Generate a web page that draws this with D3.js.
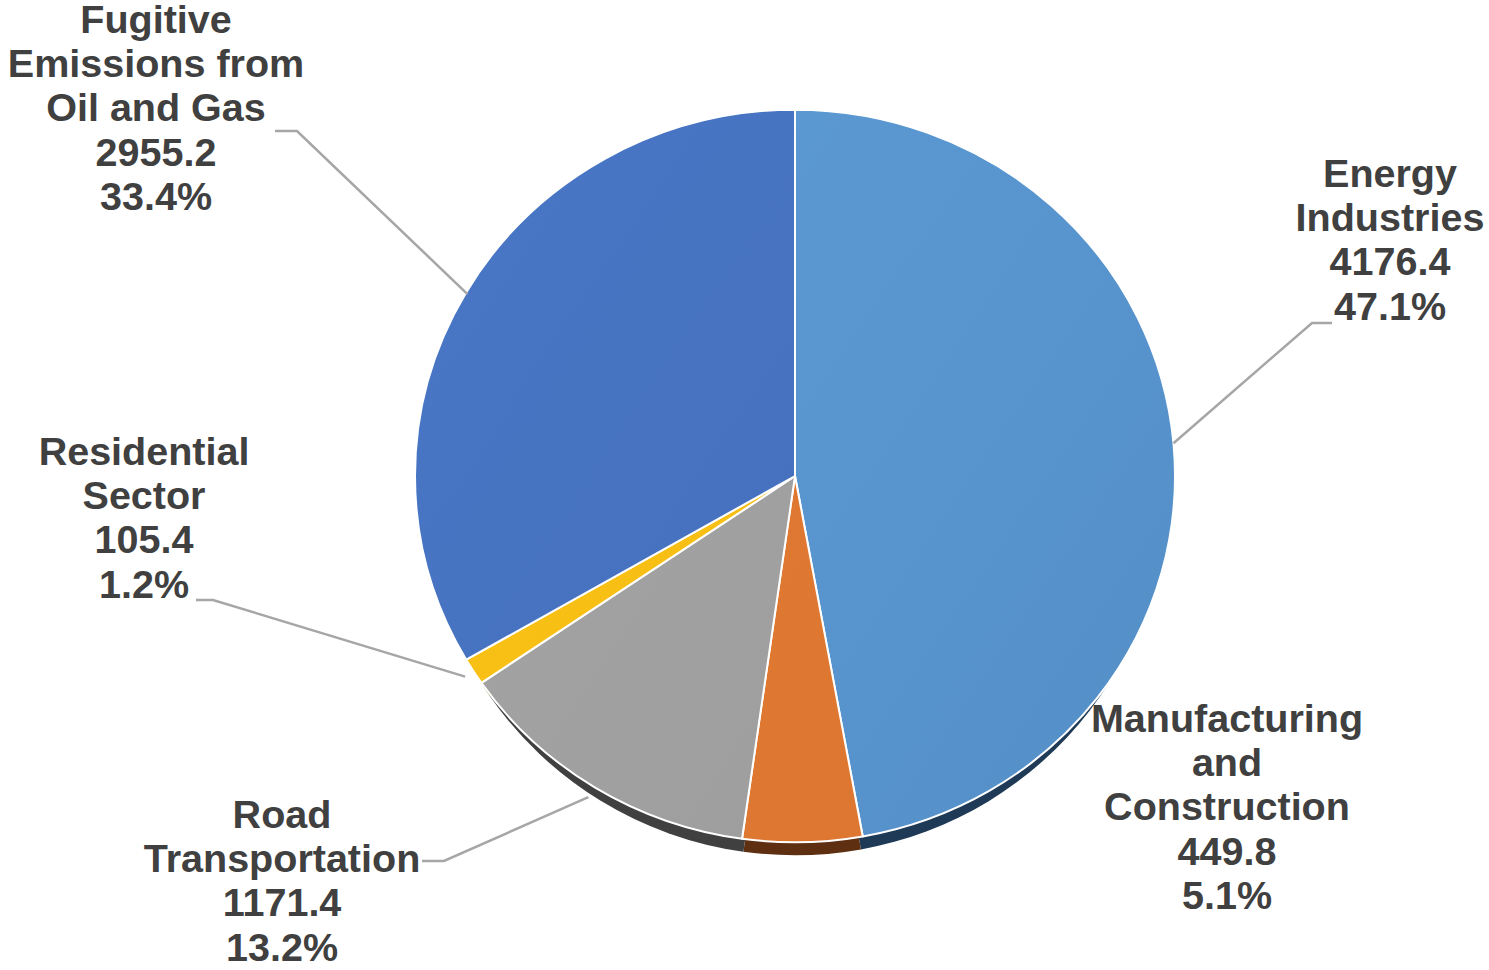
<!DOCTYPE html>
<html>
<head>
<meta charset="utf-8">
<script src="https://cdn.jsdelivr.net/npm/d3@7"></script>
<style>
  html, body { margin: 0; padding: 0; background: #ffffff; }
  svg { display: block; }
</style>
</head>
<body>
<svg id="chart" width="1489" height="970"></svg>
<script>
// Emissions by source category
const categories = [
  "Energy Industries",
  "Manufacturing and Construction",
  "Road Transportation",
  "Residential Sector",
  "Fugitive Emissions from Oil and Gas"
];
const values = [4176.4, 449.8, 1171.4, 105.4, 2955.2];
const labelLines = [
  ["Energy", "Industries"],
  ["Manufacturing", "and", "Construction"],
  ["Road", "Transportation"],
  ["Residential", "Sector"],
  ["Fugitive", "Emissions from", "Oil and Gas"]
];

// Colours: slice fill (light / dark end of the gradient) and shadow
const fillLight = ["#5e9dd7", "#e27c34", "#a6a6a6", "#fac218", "#4a78c6"];
const fillDark  = ["#5590c9", "#dc7630", "#9c9c9c", "#f5bb10", "#426cba"];
const shadowCol = ["#1f3a56", "#5e2f10", "#404040", "#6b5208", "#22385e"];

// Label placement: centre x, first baseline, leader geometry
const layout = [
  { x: 1390, y: 187, anchorR: 380, elbow: [1312, 323], end: [1332, 323] },
  { x: 1227, y: 732, anchorR: null },
  { x: 282,  y: 828, anchorR: 392, elbow: [444, 861], end: [422, 861] },
  { x: 144,  y: 465, anchorR: 390, elbow: [213, 600], end: [196, 600] },
  { x: 156,  y: 33,  anchorR: 378, elbow: [297, 131], end: [275, 131] }
];

// The pie is drawn slightly wider than tall
const cx = 795, cy = 476, R = 380, sy = 0.964;
const lineHeight = 44.2;
const textStretch = 1.04;

const svg = d3.select("#chart");
const defs = svg.append("defs");

values.forEach((v, i) => {
  const g = defs.append("linearGradient")
    .attr("id", "grad" + i)
    .attr("gradientUnits", "userSpaceOnUse")
    .attr("x1", -R).attr("y1", -R).attr("x2", R).attr("y2", R * 0.3);
  g.append("stop").attr("offset", "0%").attr("stop-color", fillLight[i]);
  g.append("stop").attr("offset", "100%").attr("stop-color", fillDark[i]);
});

const total = d3.sum(values);
const pct = d3.format(".1%");
const num = d3.format(".1f");

const pie = d3.pie().sort(null).value(d => d);
const arcs = pie(values);
const arc = d3.arc().innerRadius(0).outerRadius(R);

// Drop shadow beneath the pie
svg.append("g")
  .attr("transform", `translate(${cx},${cy + 13}) scale(0.974,${sy})`)
  .selectAll("path")
  .data(arcs)
  .join("path")
  .attr("d", arc)
  .attr("fill", (d, i) => shadowCol[i]);

// Slices
svg.append("g")
  .attr("transform", `translate(${cx},${cy}) scale(1,${sy})`)
  .selectAll("path")
  .data(arcs)
  .join("path")
  .attr("d", arc)
  .attr("fill", (d, i) => `url(#grad${i})`)
  .attr("stroke", "#ffffff")
  .attr("stroke-width", 2)
  .attr("vector-effect", "non-scaling-stroke")
  .attr("stroke-linejoin", "round");

// Leader lines
arcs.forEach((d, i) => {
  const L = layout[i];
  if (L.anchorR == null) return;
  const a = (d.startAngle + d.endAngle) / 2;
  const p = [cx + L.anchorR * Math.sin(a), cy - L.anchorR * sy * Math.cos(a)];
  svg.append("path")
    .attr("d", d3.line()([p, L.elbow, L.end]))
    .attr("fill", "none")
    .attr("stroke", "#a6a6a6")
    .attr("stroke-width", 2.5);
});

// Data labels: category name, value, share
arcs.forEach((d, i) => {
  const L = layout[i];
  const lines = labelLines[i].concat([num(values[i]), pct(values[i] / total)]);
  const t = svg.append("text")
    .attr("transform", `translate(${L.x},${L.y}) scale(${textStretch},1)`)
    .attr("text-anchor", "middle")
    .attr("font-family", "'Liberation Sans', Arial, sans-serif")
    .attr("font-weight", "bold")
    .attr("font-size", 38)
    .attr("fill", "#404040");
  lines.forEach((s, k) => {
    t.append("tspan")
      .attr("x", 0)
      .attr("y", k * lineHeight)
      .text(s);
  });
});
</script>
</body>
</html>
